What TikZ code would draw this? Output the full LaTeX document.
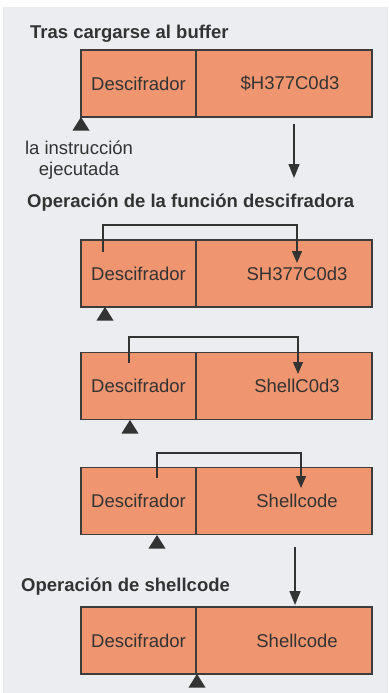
\documentclass[tikz,border=0pt]{standalone}
\usepackage{fontspec}
\setmainfont{Liberation Sans}
\usetikzlibrary{arrows.meta}
\definecolor{bg}{HTML}{ECEDF0}
\definecolor{boxfill}{HTML}{EF9670}
\definecolor{ink}{HTML}{333333}
\definecolor{edge}{HTML}{3C3C3C}
\begin{document}
\begin{tikzpicture}[x=1pt,y=-1pt,
  cell/.style={draw=edge,line width=1.3pt,fill=boxfill,minimum height=67pt,inner sep=0pt,text=ink,font=\fontsize{18.5}{22}\selectfont},
  leftcell/.style={cell,minimum width=115pt},
  rightcell/.style={cell,minimum width=176pt},
  celltext/.style={text=ink,font=\fontsize{18.5}{22}\selectfont,inner sep=0pt},
  title/.style={anchor=west,text=ink,font=\fontsize{18.5}{22}\selectfont\bfseries,inner sep=0pt},
  loop/.style={draw=ink,line width=1.3pt,-{Triangle[length=12pt,width=10pt]}},
  down/.style={draw=ink,line width=1.3pt,-{Triangle[length=14pt,width=11pt]}},
  pointer/.style={fill=ink}
]
\useasboundingbox (0,0) rectangle (388,693);
\fill[white] (0,0) rectangle (388,693);
\fill[bg] (3,7) rectangle (388,693);

% titles
\node[title] (t1) at (30,34) {Tras cargarse al buffer};
\node[title] (t2) at (27,203) {Operación de la función descifradora};
\node[title] (t3) at (21,587) {Operación de shellcode};

% box rows
\foreach \n/\y in {1/83.5,2/273.5,3/386,4/501,5/640.5}{
  \node[leftcell] (L\n) at (138.5,\y) {Descifrador};
  \node[rightcell] (R\n) at (284,\y) {};
}
\node[celltext] (c1) at (290,83.5) {\$H377C0d3};
\node[celltext] (c2) at (297,273.5) {SH377C0d3};
\node[celltext] (c3) at (297,386) {ShellC0d3};
\node[celltext] (c4) at (297,501) {Shellcode};
\node[celltext] (c5) at (297,640.5) {Shellcode};

% pointer triangles
\foreach \n/\x/\y in {1/81/117,2/105/307,3/130/420,4/157/535,5/197/674}{
  \coordinate (p\n) at (\x,\y);
  \fill[pointer] (p\n) -- ++(8.5,13.5) -- ++(-17,0) -- cycle;
}

\node[celltext,align=center,font=\fontsize{18.5}{21}\selectfont] (note) at (79,160.5) {la instrucción\\ejecutada};

% loops
\coordinate (s2) at (103,252); \coordinate (e2) at (297,263);
\coordinate (s3) at (129,363); \coordinate (e3) at (298,374);
\coordinate (s4) at (157,478); \coordinate (e4) at (301,488);
\draw[loop] (s2) -- (103,225) -| (e2);
\draw[loop] (s3) -- (129,337) -| (e3);
\draw[loop] (s4) -- (157,453) -| (e4);

% down arrows
\coordinate (d1) at (294,124); \coordinate (d1e) at (294,178);
\coordinate (d2) at (295,547); \coordinate (d2e) at (295,605);
\draw[down] (d1) -- (d1e);
\draw[down] (d2) -- (d2e);
\end{tikzpicture}
\end{document}
